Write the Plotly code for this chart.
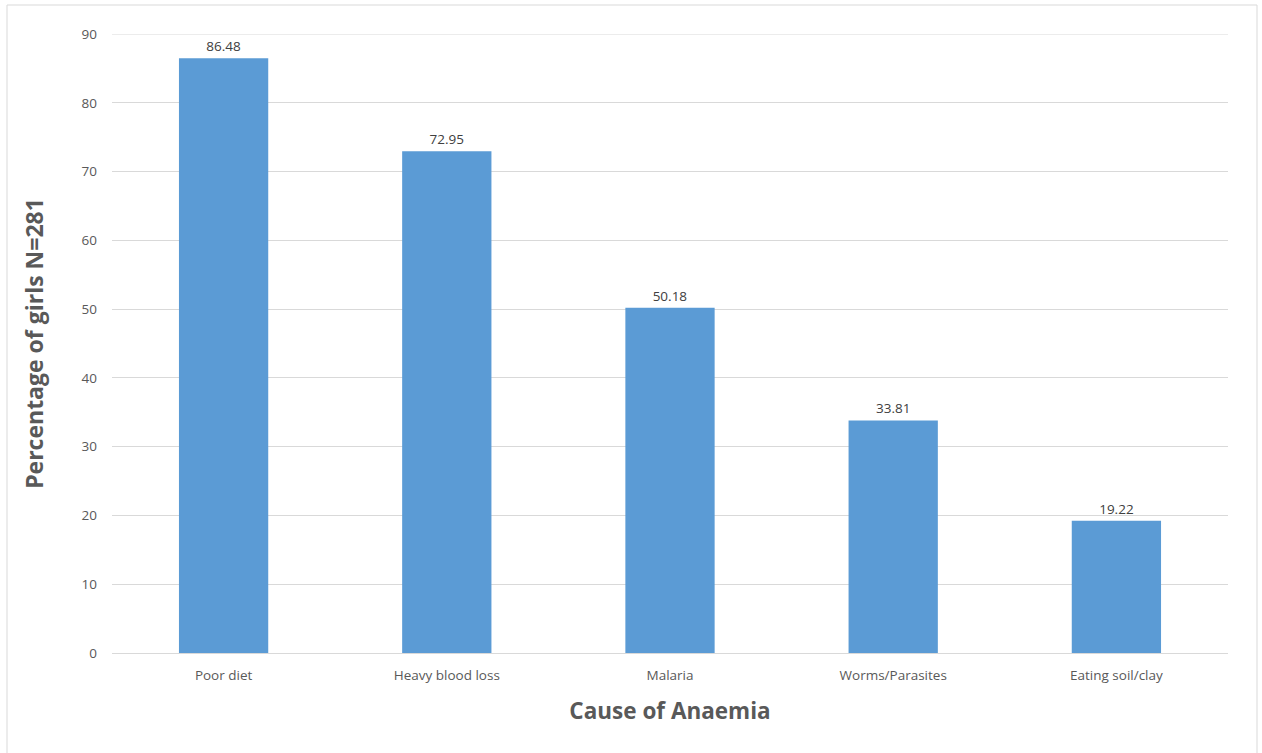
import plotly.graph_objects as go

causes = ["Poor diet", "Heavy blood loss", "Malaria", "Worms/Parasites", "Eating soil/clay"]
percentages = [86.48, 72.95, 50.18, 33.81, 19.22]
y_ticks = [0, 10, 20, 30, 40, 50, 60, 70, 80, 90]

W, H = 1262, 753
L, R, T, B = 112, 34, 34, 100
pw, ph = W - L - R, H - T - B

def px_x(x):
    return (x - L) / pw

def px_y(y):
    return (H - B - y) / ph

fig = go.Figure(
    go.Bar(
        x=causes,
        y=percentages,
        marker=dict(color="#5B9BD5", line=dict(width=0)),
        text=[f"{v:.2f}" for v in percentages],
        textposition="outside",
        textfont=dict(family="Open Sans", size=13.5, color="#404040"),
        cliponaxis=False,
    )
)

fig.update_layout(
    width=W,
    height=H,
    margin=dict(l=L, r=R, t=T, b=B),
    paper_bgcolor="white",
    plot_bgcolor="white",
    bargap=0.6,
    showlegend=False,
    font=dict(family="Open Sans", color="#595959"),
    xaxis=dict(
        title=dict(text="<b>Cause of Anaemia</b>", font=dict(size=22.5, color="#595959"), standoff=20),
        tickfont=dict(size=13.5, color="#595959"),
        showgrid=False,
        showline=False,
        ticks="",
        ticklabelstandoff=12,
    ),
    yaxis=dict(
        title=dict(text="<b>Percentage of girls N=281</b>", font=dict(size=23, color="#595959"), standoff=31),
        range=[0, 90],
        tickvals=y_ticks,
        tickfont=dict(size=13.5, color="#595959"),
        showgrid=True,
        gridcolor="#d9d9d9",
        gridwidth=1,
        zeroline=True,
        zerolinecolor="#d9d9d9",
        zerolinewidth=1,
        showline=False,
        ticks="",
        ticklabelstandoff=14,
    ),
    shapes=[
        # outer chart frame
        dict(
            type="rect",
            xref="paper",
            yref="paper",
            x0=px_x(7),
            x1=px_x(1257),
            y0=px_y(760),
            y1=px_y(5),
            line=dict(color="#d9d9d9", width=1),
            fillcolor="rgba(0,0,0,0)",
            layer="below",
        ),
        # gridline at the top of the value range
        dict(
            type="line",
            xref="paper",
            yref="y",
            x0=0,
            x1=1,
            y0=y_ticks[-1],
            y1=y_ticks[-1],
            line=dict(color="#d9d9d9", width=1),
            layer="below",
        ),
    ],
)

fig.write_html("out.html")
